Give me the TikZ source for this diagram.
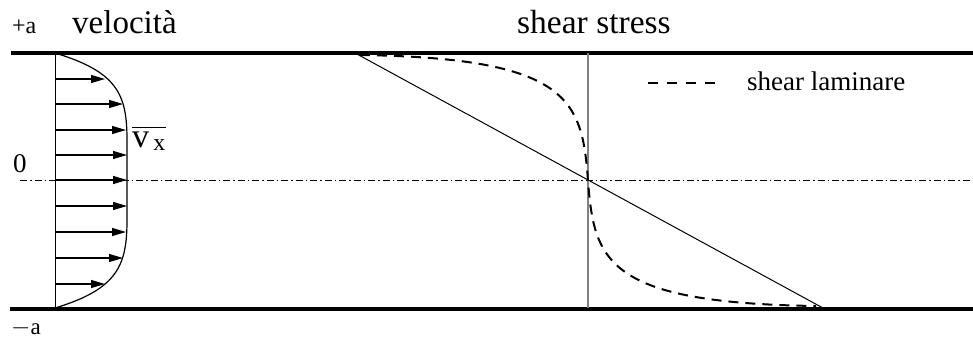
\documentclass[tikz,border=0pt]{standalone}
\usepackage{amsmath}
\usepackage{fontspec}
\setmainfont{Liberation Serif}
\usetikzlibrary{arrows.meta}
\tikzstyle{parete}=[line width=4pt]
\tikzstyle{asse}=[line width=1pt,dash pattern=on 7pt off 3pt on 1.5pt off 3pt]
\tikzstyle{vfreccia}=[-{Triangle[length=14pt,width=8pt]},line width=1.1pt]
\tikzstyle{lamin}=[line width=2pt,dash pattern=on 10pt off 7pt]
\tikzstyle{etich}=[inner sep=0pt,anchor=base west]

\begin{document}
\begin{tikzpicture}[x=1pt,y=-1pt]
\useasboundingbox (0,0) rectangle (973,340);
\node[etich,font=\fontsize{24}{24}\selectfont] (pa) at (12,33) {+a};
\node[etich,font=\fontsize{33}{33}\selectfont] (vel) at (72,33) {velocità};
\node[etich,font=\fontsize{33.5}{33}\selectfont] (ss) at (517,33) {shear stress};
\node[etich,font=\fontsize{27}{27}\selectfont] (zero) at (13,172) {0};
\node[etich,font=\fontsize{23}{23}\selectfont] (ma) at (11,334) {$-$a};
\node[etich,font=\fontsize{34}{34}\selectfont] (vx) at (132,147) {$\overline{\text{v}_{\,\text{x}}}$};
\node[etich,font=\fontsize{27}{27}\selectfont] (leg) at (747,90) {shear laminare};
\coordinate (TL) at (11,52.5); \coordinate (TR) at (973,52.5);
\coordinate (BL) at (10,308.5); \coordinate (BR) at (973,308.5);
\coordinate (CL) at (20,180.5); \coordinate (CR) at (973,180.5);
\coordinate (V1) at (55,53); \coordinate (V2) at (55,308);
\coordinate (S1) at (588,53); \coordinate (S2) at (588,308);
\coordinate (O) at (588,180.5);
\coordinate (R1) at (355,53); \coordinate (R2) at (823,308);
\coordinate (D1) at (360,55); \coordinate (D2) at (816,306);
\coordinate (L1) at (648,83); \coordinate (L2) at (720,83);
\draw[parete] (TL) -- (TR);
\draw[parete] (BL) -- (BR);
\draw[asse] (CL) -- (CR);
\draw[line width=1pt] (V1) -- (V2);
\draw[line width=1.2pt] (V1) .. controls (118,72) and (127,95) .. (127,140) -- (127,220)
  .. controls (127,265) and (118,289) .. (V2);
\foreach \y/\x in {79/105,104/123,130/126,155/127,180/127,206/127,232/126,258/123,284/105}{
  \coordinate (a\y) at (55,\y); \coordinate (b\y) at (\x,\y);
  \draw[vfreccia] (a\y) -- (b\y);}
\draw[line width=1.5pt,gray] (S1) -- (S2);
\draw[line width=1pt] (R1) -- (R2);
\draw[lamin] (D1) .. controls (570,58) and (582,100) .. (O) .. controls (594,261) and (606,303) .. (D2);
\draw[lamin,line width=1.5pt,dash pattern=on 10pt off 9pt] (L1) -- (L2);
\end{tikzpicture}
\end{document}
